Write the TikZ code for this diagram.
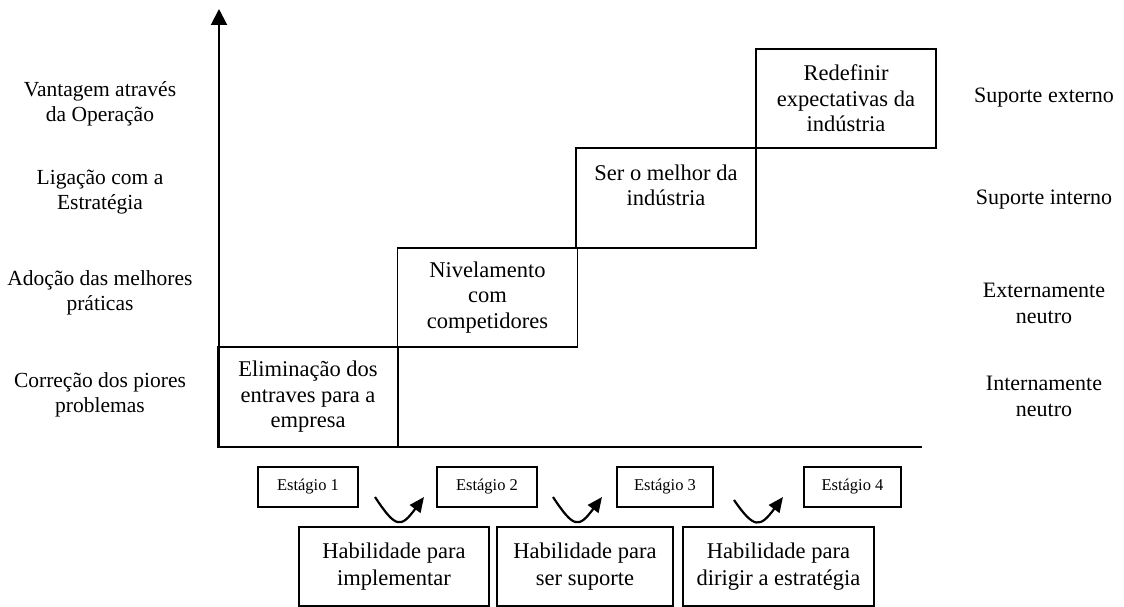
\documentclass[tikz,border=0pt]{standalone}
\usepackage{fontspec}
\setmainfont{Liberation Serif}
\usetikzlibrary{arrows.meta}

\begin{document}
\begin{tikzpicture}[x=1pt,y=-1pt,
  stepbox/.style={draw, line width=1.6pt, minimum width=180pt, minimum height=99.5pt,
    inner sep=0pt, align=center, font=\fontsize{22.5}{25.5}\selectfont},
  levellabel/.style={align=center, font=\fontsize{21.5}{24.5}\selectfont},
  sidelabel/.style={align=center, font=\fontsize{22}{26}\selectfont},
  stagebox/.style={draw, line width=1.6pt, minimum width=100pt, minimum height=40pt,
    inner sep=0pt, font=\fontsize{16.5}{19}\selectfont},
  skillbox/.style={draw, line width=1.6pt, minimum height=79pt, inner sep=0pt,
    align=center, font=\fontsize{22.5}{27}\selectfont},
  axisline/.style={line width=2pt},
  hook/.style={line width=2.2pt, -{Triangle[length=15pt,width=13pt]}}
]
\useasboundingbox (0,0) rectangle (1124,607);

% axes
\coordinate (origin) at (219,447);
\coordinate (ytop) at (219,9);
\coordinate (xend) at (922,447);
\draw[axisline, -{Triangle[length=16pt,width=16pt]}] (origin) -- (ytop);
\draw[axisline] (origin) -- (xend);

% staircase of stages
\node[stepbox] (b1) at (308,397)   {Eliminação dos\\entraves para a\\empresa};
\node[stepbox] (b2) at (487.5,297.5) {Nivelamento\\com\\competidores};
\node[stepbox] (b3) at (666,198)   {Ser o melhor da\\indústria\\\phantom{x}};
\node[stepbox] (b4) at (846,98.5)  {Redefinir\\expectativas da\\indústria};

% levels on the left
\node[levellabel] (l4) at (100,104) {Vantagem através\\da Operação};
\node[levellabel] (l3) at (100,192) {Ligação com a\\Estratégia};
\node[levellabel] (l2) at (100,293) {Adoção das melhores\\práticas};
\node[levellabel] (l1) at (100,395) {Correção dos piores\\problemas};

% roles on the right
\node[sidelabel] (r4) at (1044,98)  {Suporte externo};
\node[sidelabel] (r3) at (1044,200) {Suporte interno};
\node[sidelabel] (r2) at (1044,303) {Externamente\\neutro};
\node[sidelabel] (r1) at (1044,396) {Internamente\\neutro};

% stage tags
\node[stagebox] (s1) at (308,487)   {Estágio 1};
\node[stagebox] (s2) at (487,487)   {Estágio 2};
\node[stagebox, minimum width=96pt] (s3) at (665,487) {Estágio 3};
\node[stagebox, minimum width=97pt] (s4) at (852.5,487) {Estágio 4};

% abilities needed to move up
\node[skillbox, minimum width=190pt] (h1) at (394,566.5)   {Habilidade para\\implementar};
\node[skillbox, minimum width=176pt] (h2) at (585,566.5)   {Habilidade para\\ser suporte};
\node[skillbox, minimum width=191pt] (h3) at (778.5,566.5) {Habilidade para\\dirigir a estratégia};

% transition hooks
\coordinate (a1s) at (375,497);
\coordinate (a1e) at (424,497);
\coordinate (a2s) at (553,497);
\coordinate (a2e) at (602,497);
\coordinate (a3s) at (734,500);
\coordinate (a3e) at (783,497);
\draw[hook] (a1s) .. controls +(21,32) and +(-23,31) .. (a1e);
\draw[hook] (a2s) .. controls +(21,32) and +(-23,31) .. (a2e);
\draw[hook] (a3s) .. controls +(20,29) and +(-23,31) .. (a3e);
\end{tikzpicture}
\end{document}
